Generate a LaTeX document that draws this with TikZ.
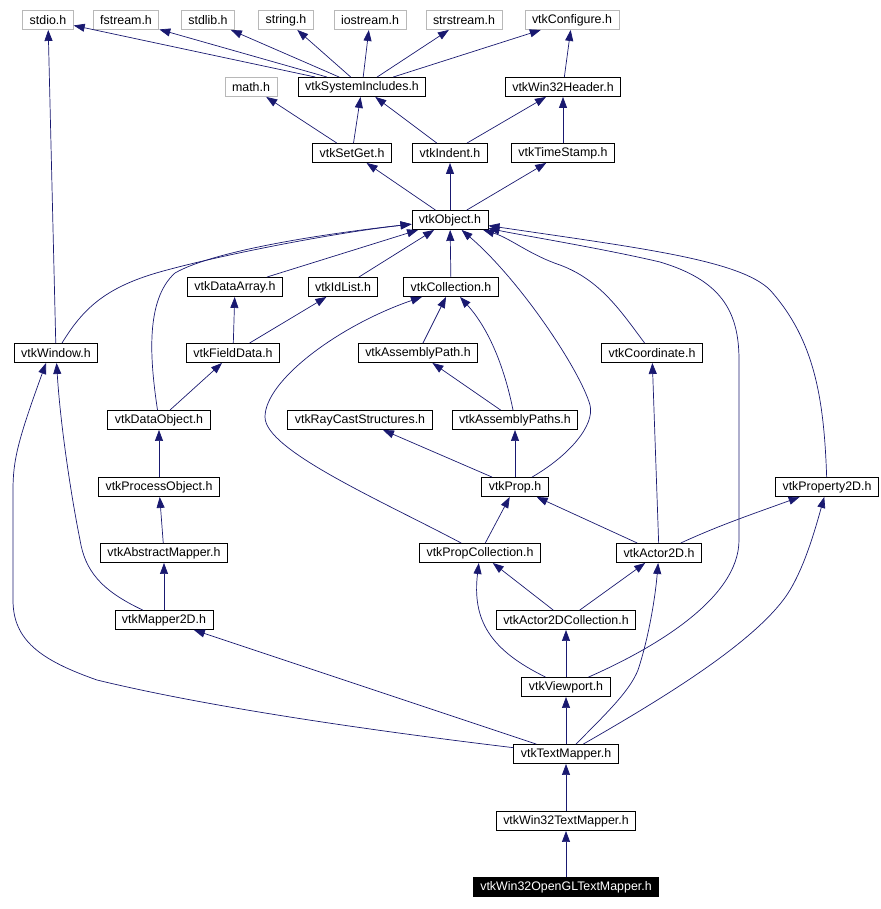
\documentclass[tikz,border=0pt]{standalone}
\usepackage{fontspec}
\setmainfont{Liberation Sans}
\usetikzlibrary{arrows.meta}
\definecolor{edgeblue}{HTML}{191970}
\begin{document}
\begin{tikzpicture}[x=1pt,y=-1pt,
  hdr/.style={draw,line width=0.9pt,inner xsep=7pt,inner ysep=0pt,minimum height=19pt,font=\fontsize{12.4}{14}\selectfont},
  ext/.style={hdr,draw=black!28},
  topfile/.style={hdr,fill=black,text=white},
  dep/.style={draw=edgeblue,line width=0.7pt,-{Triangle[length=11pt,width=8pt]}}]
  \useasboundingbox (0,0) rectangle (880,909);

  % system headers
  \foreach \n/\x/\y/\t in {stdio/48/20/stdio.h, fstream/126/20/fstream.h, stdlib/208/20/stdlib.h,
      string/286/20/string.h, iostream/370/20/iostream.h, strstream/464/20/strstream.h,
      config/572/20/vtkConfigure.h, math/251/87/math.h}
    \node [ext] (\n) at (\x,\y) {\t};

  % vtk headers
  \foreach \n/\x/\y/\t in {sysinc/362/87/vtkSystemIncludes.h, win32hdr/563/87/vtkWin32Header.h,
      setget/352/153/vtkSetGet.h, indent/450/153/vtkIndent.h, tstamp/563/153/vtkTimeStamp.h,
      obj/450/220/vtkObject.h,
      darray/235/287/vtkDataArray.h, idlist/343/287/vtkIdList.h, coll/451/287/vtkCollection.h,
      wnd/56/353/vtkWindow.h, fdata/233/353/vtkFieldData.h, apath/418/353/vtkAssemblyPath.h,
      coord/652/353/vtkCoordinate.h,
      dobj/159/420/vtkDataObject.h, raycast/360/420/vtkRayCastStructures.h, apaths/515/420/vtkAssemblyPaths.h,
      pobj/159/487/vtkProcessObject.h, prop/515/487/vtkProp.h, prop2d/827/487/vtkProperty2D.h,
      amap/164/553/vtkAbstractMapper.h, pcoll/480/553/vtkPropCollection.h, actor/659/553/vtkActor2D.h,
      map2d/164/620/vtkMapper2D.h, a2dcoll/566/620/vtkActor2DCollection.h,
      vport/566/687/vtkViewport.h, textm/566/754/vtkTextMapper.h, w32tm/566/821/vtkWin32TextMapper.h}
    \node [hdr] (\n) at (\x,\y) {\t};

  \node [topfile] (w32gl) at (566,887) {vtkWin32OpenGLTextMapper.h};

  % straight includes
  \foreach \a/\b in {sysinc/stdio, sysinc/fstream, sysinc/stdlib, sysinc/string, sysinc/iostream,
      sysinc/strstream, sysinc/config, win32hdr/config, setget/math, setget/sysinc,
      indent/sysinc, indent/win32hdr, tstamp/win32hdr, obj/setget, obj/indent, obj/tstamp,
      darray/obj, idlist/obj, coll/obj, wnd/stdio, fdata/darray, fdata/idlist, apath/coll,
      apaths/apath, dobj/fdata, prop/raycast, prop/apaths, pobj/dobj, amap/pobj, map2d/amap,
      pcoll/prop, actor/prop, actor/coord, a2dcoll/pcoll, a2dcoll/actor, vport/a2dcoll,
      textm/vport, textm/map2d, w32tm/textm, w32gl/w32tm}
    \draw [dep] (\a) -- (\b);

  % curved includes
  \draw [dep] (wnd) .. controls (85,305) and (110,285) .. (167,270)
    .. controls (230,253) and (340,232) .. (obj);
  \draw [dep] (dobj) .. controls (150,360) and (145,300) .. (175,273)
    .. controls (215,250) and (330,233) .. (obj);
  \draw [dep] (pcoll) .. controls (380,500) and (265,450) .. (265,417)
    .. controls (265,380) and (340,325) .. (coll);
  \draw [dep] (apaths) .. controls (505,370) and (490,330) .. (coll);
  \draw [dep] (prop) .. controls (570,455) and (595,425) .. (590,405)
    .. controls (580,370) and (520,280) .. (obj);
  \draw [dep] (coord) .. controls (620,310) and (600,280) .. (560,265)
    .. controls (530,255) and (510,238) .. (obj);
  \draw [dep] (vport) .. controls (650,650) and (739,600) .. (739,540) -- (739,360)
    .. controls (739,310) and (720,280) .. (660,262) .. controls (600,248) and (520,235) .. (obj);
  \draw [dep] (prop2d) .. controls (824,400) and (815,340) .. (770,290)
    .. controls (740,260) and (640,248) .. (obj);
  \draw [dep] (map2d) .. controls (100,590) and (85,570) .. (80,540)
    .. controls (70,490) and (60,420) .. (wnd);
  \draw [dep] (textm) .. controls (350,728) and (200,705) .. (97,680)
    .. controls (40,660) and (13,640) .. (13,600) -- (13,490)
    .. controls (13,460) and (18,440) .. (wnd.225);
  \draw [dep] (textm) .. controls (610,710) and (630,690) .. (638,670)
    .. controls (648,640) and (655,600) .. (actor);
  \draw [dep] (textm) .. controls (660,700) and (760,640) .. (790,590)
    .. controls (805,565) and (815,530) .. (prop2d);
  \draw [dep] (vport) .. controls (490,650) and (472,620) .. (pcoll);
  \draw [dep] (actor) .. controls (720,525) and (750,515) .. (prop2d);

\end{tikzpicture}
\end{document}
